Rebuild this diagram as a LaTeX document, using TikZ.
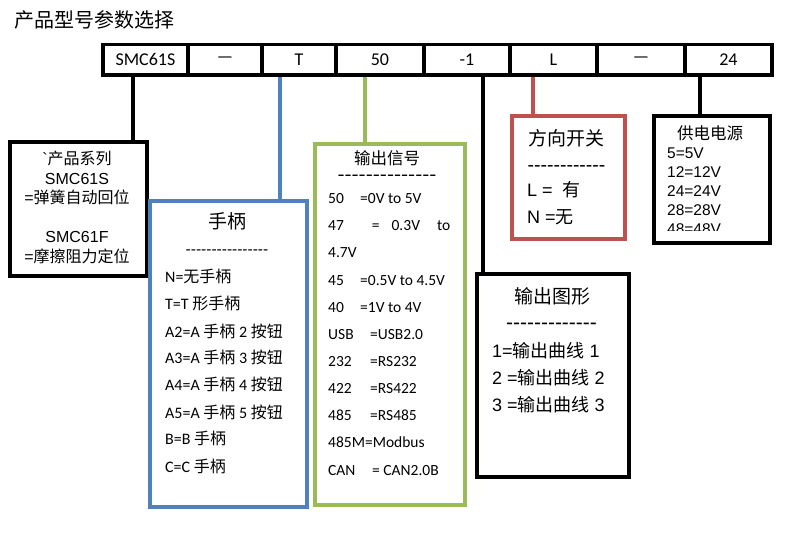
\documentclass[tikz,border=0pt]{standalone}
\usepackage{graphicx}
\usepackage{fontspec}
\setmainfont{Carlito}
\newfontfamily\cjk{Noto Sans CJK SC}
\newfontfamily\ars{Liberation Sans}
\newcommand\zh[1]{{\cjk #1}}
\newcommand\hh{\mbox{-}}
\newcommand\fs[1]{\fontsize{#1}{#1}\selectfont}
\definecolor{cblue}{HTML}{4F81BD}
\definecolor{cgreen}{HTML}{9BBB59}
\definecolor{cred}{HTML}{C0504D}
\begin{document}
\begin{tikzpicture}[x=1pt,y=-1pt,
  lw/.style={line width=3.8pt},
  cell/.style={draw,lw,anchor=north west,inner sep=0,minimum height=30.5pt,font=\fs{18}},
  bx/.style={draw,lw,anchor=north west,inner sep=0},
  tl/.style={anchor=base west,inner sep=0},
  tc/.style={anchor=base,inner sep=0},
  dsh/.style={anchor=base,inner sep=0,text height=7pt,text depth=0pt}]
\useasboundingbox[fill=white] (0,0) rectangle (800,536);
% title
\node[tl,font=\cjk\fs{20}] (title) at (14,27) {产品型号参数选择};
% cells
\node[cell,minimum width=85pt] (c1) at (101,42.5) {SMC61S};
\node[cell,minimum width=74pt] (c2) at (186,42.5) {—};
\node[cell,minimum width=74pt] (c3) at (260,42.5) {T};
\node[cell,minimum width=88pt] (c4) at (334,42.5) {50};
\node[cell,minimum width=86pt] (c5) at (422,42.5) {-1};
\node[cell,minimum width=87pt] (c6) at (508,42.5) {L};
\node[cell,minimum width=88pt] (c7) at (595,42.5) {—};
\node[cell,minimum width=87pt] (c8) at (683,42.5) {24};
% boxes
\node[bx,minimum width=137pt,minimum height=134pt] (prod) at (8,140) {};
\node[bx,draw=cblue,minimum width=157pt,minimum height=306pt] (hand) at (148,199) {};
\node[bx,draw=cgreen,minimum width=150pt,minimum height=361pt] (sig) at (313,142) {};
\node[bx,draw=cred,minimum width=113pt,minimum height=123pt] (dir) at (510,114) {};
\node[bx,minimum width=116pt,minimum height=127pt] (pow) at (652,114) {};
\node[bx,minimum width=152pt,minimum height=203pt] (graph) at (475,272) {};
% connectors
\coordinate (x1) at (133,0);
\coordinate (x3) at (280,0);
\coordinate (x4) at (365,0);
\coordinate (x5) at (483,0);
\coordinate (x6) at (533,0);
\coordinate (x8) at (700,0);
\draw[lw] (c1.south -| x1) -- (prod.north -| x1);
\draw[lw,cblue] (c3.south -| x3) -- (hand.north -| x3);
\draw[lw,cgreen] (c4.south -| x4) -- (sig.north -| x4);
\draw[lw] (c5.south -| x5) -- (graph.north -| x5);
\draw[lw,cred] (c6.south -| x6) -- (dir.north -| x6);
\draw[lw] (c8.south -| x8) -- (pow.north -| x8);
% product series
\begin{scope}[every node/.style={tc,font=\ars\fs{16}}]
\node (p1) at (77,164) {\textasciigrave\zh{产品系列}};
\node (p2) at (77,184) {SMC61S};
\node (p3) at (77,203) {=\zh{弹簧自动回位}};
\node (p4) at (77,242) {SMC61F};
\node (p5) at (77,262) {=\zh{摩擦阻力定位}};
\end{scope}
% handle
\node[tc,font=\cjk\fs{19}] (h0) at (227,228) {手柄};
\node[dsh,font=\ars\fs{15.5}] (hd) at (227,254) {\hh\hh\hh\hh\hh\hh\hh\hh\hh\hh\hh\hh\hh\hh\hh\hh};
\begin{scope}[every node/.style={tl,font=\fs{16}}]
\node (h1) at (165,282.5) {N=\zh{无手柄}};
\node (h2) at (165,309.5) {T=T \zh{形手柄}};
\node (h3) at (165,337.5) {A2=A \zh{手柄} 2 \zh{按钮}};
\node (h4) at (165,363.5) {A3=A \zh{手柄} 3 \zh{按钮}};
\node (h5) at (165,390.5) {A4=A \zh{手柄} 4 \zh{按钮}};
\node (h6) at (165,418.5) {A5=A \zh{手柄} 5 \zh{按钮}};
\node (h7) at (165,444.5) {B=B \zh{手柄}};
\node (h8) at (165,472.5) {C=C \zh{手柄}};
\end{scope}
% output signal
\node[tc,font=\cjk\fs{16.5}] (s0) at (387,164.5) {输出信号};
\node[dsh,font=\ars\fs{15.5}] (sd) at (387,180) {\scalebox{1.37}[1.15]{\hh\hh\hh\hh\hh\hh\hh\hh\hh\hh\hh\hh\hh\hh}};
\begin{scope}[every node/.style={tl,font=\fs{15.5}}]
\node (s1) at (328,203.5) {\makebox[32pt][l]{50}=0V to 5V};
\node (s2) at (328,230.5) {47\hspace{28pt}=\hspace{12pt}0.3V\hspace{17pt}to};
\node (s3) at (328,257.5) {4.7V};
\node (s4) at (328,285.5) {\makebox[32pt][l]{45}=0.5V to 4.5V};
\node (s5) at (328,312.5) {\makebox[32pt][l]{40}=1V to 4V};
\node (s6) at (328,339.5) {\makebox[42pt][l]{USB}=USB2.0};
\node (s7) at (328,366.5) {\makebox[42pt][l]{232}=RS232};
\node (s8) at (328,393.5) {\makebox[42pt][l]{422}=RS422};
\node (s9) at (328,420.5) {\makebox[42pt][l]{485}=RS485};
\node (s10) at (328,447.5) {485M=Modbus};
\node (s11) at (328,475.5) {\makebox[44pt][l]{CAN}= CAN2.0B};
\end{scope}
% direction switch
\node[tc,font=\cjk\fs{19}] (d0) at (566,145.5) {方向开关};
\node[dsh,font=\ars\fs{19.5}] (dd) at (566.5,171.5) {\hh\hh\hh\hh\hh\hh\hh\hh\hh\hh\hh\hh};
\node[tl,font=\ars\fs{18}] (d1) at (527,196) {L =\ \ \zh{有}};
\node[tl,font=\ars\fs{18}] (d2) at (527,223) {N =\zh{无}};
% power
\node[tc,font=\cjk\fs{16.5}] (w0) at (710,139) {供电电源};
\begin{scope}
\clip (655,116) rectangle (766,230);
\begin{scope}[every node/.style={tl,font=\ars\fs{15.5}}]
\node (w1) at (667,158.5) {5=5V};
\node (w2) at (667,177.5) {12=12V};
\node (w3) at (667,196.5) {24=24V};
\node (w4) at (667,215.5) {28=28V};
\node (w5) at (667,234.5) {48=48V};
\end{scope}
\end{scope}
% output graph
\node[tc,font=\cjk\fs{19}] (g0) at (552,303.5) {输出图形};
\node[dsh,font=\ars\fs{21}] (gd) at (551.5,329) {\hh\hh\hh\hh\hh\hh\hh\hh\hh\hh\hh\hh\hh};
\begin{scope}[every node/.style={tl,font=\ars\fs{18}}]
\node (g1) at (492,357.5) {1=\zh{输出曲线} 1};
\node (g2) at (492,384.5) {2 =\zh{输出曲线} 2};
\node (g3) at (492,411.5) {3 =\zh{输出曲线} 3};
\end{scope}
\end{tikzpicture}
\end{document}
